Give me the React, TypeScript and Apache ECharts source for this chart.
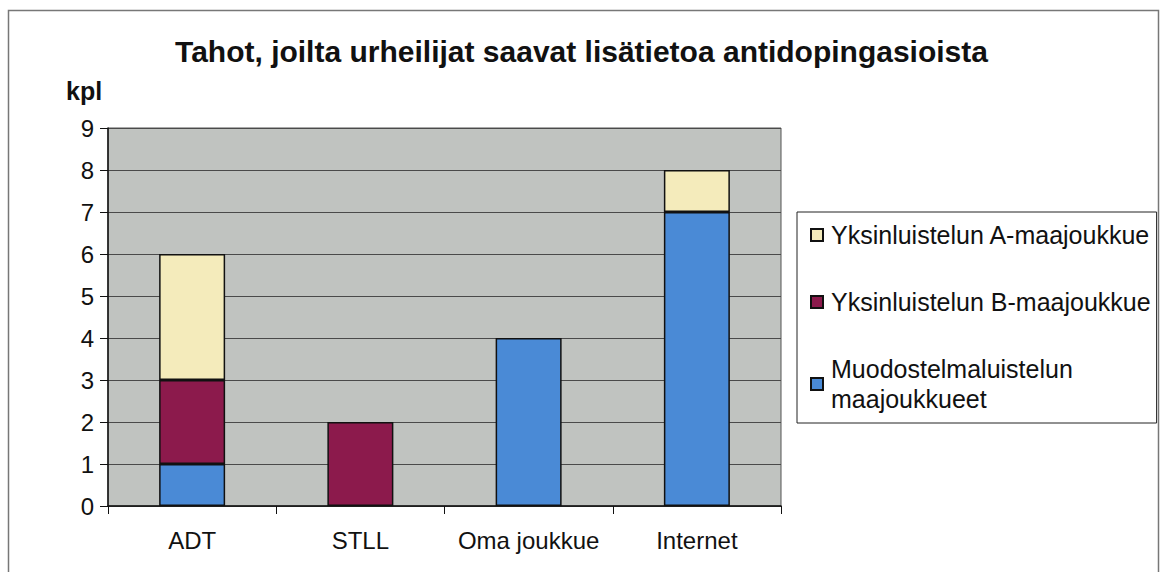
import React, { useEffect, useRef } from "react";
import * as echarts from "echarts";

const categories = ["ADT", "STLL", "Oma joukkue", "Internet"];
const seriesNames = [
  "Muodostelmaluistelun\nmaajoukkueet",
  "Yksinluistelun B-maajoukkue",
  "Yksinluistelun A-maajoukkue",
];
const muodostelma = [1, 0, 4, 7];
const yksinB = [2, 2, 0, 0];
const yksinA = [3, 0, 0, 1];
const yTicks = [0, 9, 1];
const colors = ["#4a8ad6", "#8c1a4c", "#f4ebbb"];

export default function App() {
  const ref = useRef<HTMLDivElement>(null);
  useEffect(() => {
    if (!ref.current) return;
    const chart = echarts.init(ref.current, null, { renderer: "svg" });
    const font = "'Liberation Sans', Arial, sans-serif";
    const values = [muodostelma, yksinB, yksinA];
    chart.setOption({
      animation: false,
      backgroundColor: "#ffffff",
      textStyle: { fontFamily: font },
      title: {
        text: "Tahot, joilta urheilijat saavat lisätietoa antidopingasioista",
        left: "center",
        top: 31,
        textStyle: { fontSize: 30, fontWeight: "bold", color: "#111", fontFamily: font },
      },
      graphic: [
        {
          type: "rect",
          shape: { x: 8.5, y: 10.5, width: 1150, height: 600 },
          style: { fill: "none", stroke: "#777", lineWidth: 1.5 },
          silent: true,
        },
        {
          type: "text",
          left: 66,
          top: 78,
          style: { text: "kpl", fontSize: 25, fontWeight: "bold", fill: "#111", fontFamily: font },
        },
      ],
      legend: {
        orient: "vertical",
        left: 797,
        top: 212,
        data: [seriesNames[2], seriesNames[1], seriesNames[0]],
        itemWidth: 12,
        itemHeight: 12,
        itemGap: 37,
        padding: [8, 6, 9, 13],
        borderColor: "#222",
        borderWidth: 1,
        icon: "rect",
        selectedMode: false,
        textStyle: {
          fontSize: 25,
          color: "#111",
          lineHeight: 30,
          fontFamily: font,
          padding: [0, 0, 0, 3],
        },
      },
      grid: {
        left: 108,
        right: 382,
        top: 128,
        bottom: 66,
        show: true,
        backgroundColor: "#c0c3c0",
        borderColor: "#555",
        borderWidth: 1,
      },
      xAxis: {
        type: "category",
        data: categories,
        axisLine: { lineStyle: { color: "#111", width: 1.5 } },
        axisTick: { show: true, length: 8, lineStyle: { color: "#111" } },
        axisLabel: { interval: 0, fontSize: 24, color: "#111", margin: 22, fontFamily: font },
      },
      yAxis: {
        type: "value",
        min: yTicks[0],
        max: yTicks[1],
        interval: yTicks[2],
        axisLine: { show: true, lineStyle: { color: "#111", width: 1.5 } },
        axisTick: { show: true, length: 8, lineStyle: { color: "#111" } },
        axisLabel: { fontSize: 24, color: "#111", margin: 14, fontFamily: font },
        splitLine: { lineStyle: { color: "#4a4a4a", width: 1 } },
      },
      series: seriesNames.map((name, i) => ({
        name,
        type: "bar",
        stack: "total",
        barWidth: 66,
        data: values[i].map((v) => (v === 0 ? null : v)),
        itemStyle: { color: colors[i], borderColor: "#111", borderWidth: 1.5 },
      })),
    });
    return () => chart.dispose();
  }, []);
  return (
    <div
      ref={ref}
      style={{ position: "absolute", left: 0, top: 0, width: 1163, height: 572 }}
    />
  );
}
